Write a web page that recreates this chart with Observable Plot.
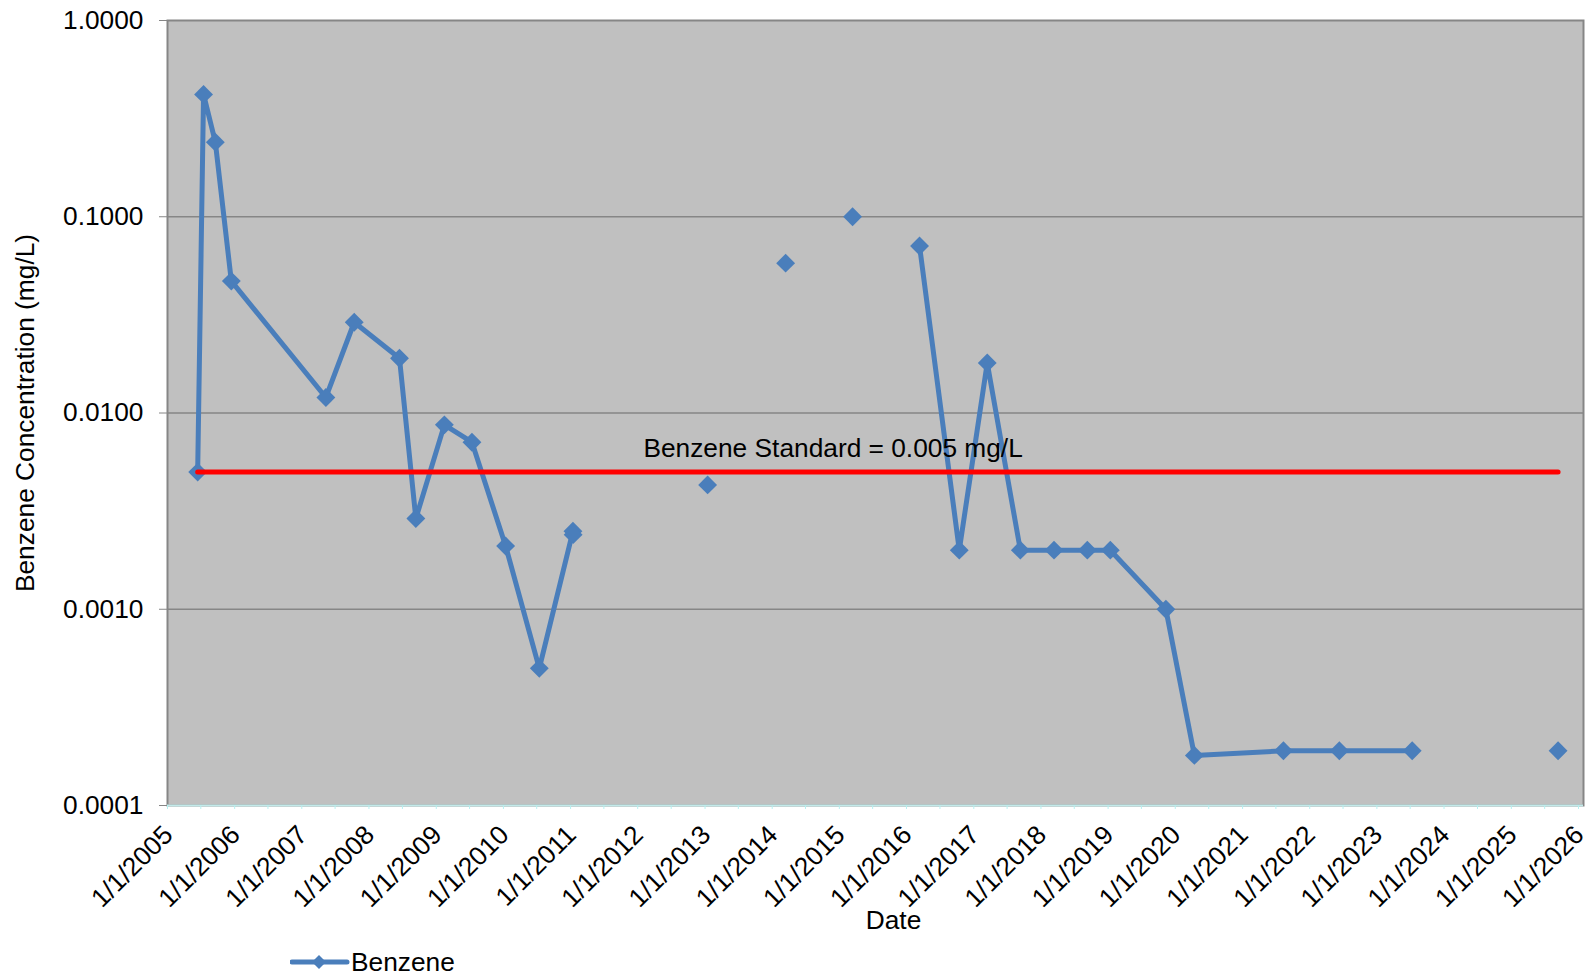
<!DOCTYPE html>
<html><head><meta charset="utf-8">
<script src="https://cdn.jsdelivr.net/npm/d3@7"></script>
<script src="https://cdn.jsdelivr.net/npm/@observablehq/plot@0.6"></script>
<style>
body{margin:0;background:#fff;font-family:"Liberation Sans",Arial,sans-serif;}
#wrap{position:relative;width:1591px;height:976px;overflow:hidden;}
#legend{position:absolute;left:290px;top:944px;height:36px;display:flex;align-items:center;font-size:26.3px;color:#000;}
#legend svg{margin-right:1px;}
</style></head><body><div id="wrap"></div>
<script>
// Sampling dates (blank rows = no result, breaking the line as in the source)
const sampleDates = [
  "2005-06-14","2005-07-16","2005-09-18","2005-12-14","2007-05-12","2007-10-13",
  "2008-06-15","2008-09-12","2009-02-14","2009-07-14","2010-01-13","2010-07-15",
  "2011-01-14","2011-01-15","2012-01-01","2013-01-15","2013-08-01","2014-03-15",
  "2014-09-01","2015-03-14","2015-09-01","2016-03-12","2016-10-14","2017-03-15",
  "2017-09-11","2018-03-13","2018-09-10","2019-01-13","2019-11-11","2020-04-14",
  "2021-08-11","2022-06-11","2023-07-12","2024-06-01","2025-09-12"
];
// Benzene concentration (mg/L)
const benzene = [
  0.005, 0.42, 0.24, 0.047, 0.012, 0.029,
  0.019, 0.0029, 0.0087, 0.0071, 0.0021, 0.0005,
  0.0025, 0.0024, null, 0.0043, null, 0.058,
  null, 0.10, null, 0.071, 0.002, 0.018,
  0.002, 0.002, 0.002, 0.002, 0.001, 0.00018,
  0.00019, 0.00019, 0.00019, null, 0.00019
];
const standardValue = 0.005;
const standardLabel = "Benzene Standard = 0.005 mg/L";
const standardLabelDate = "2012-02-01";
const yTicks = [0.0001, 0.001, 0.01, 0.1, 1];
const xStart = "2005-01-01", xEnd = "2026-01-01";
const seriesName = "Benzene";
const xTitle = "Date";
const yTitle = "Benzene Concentration (mg/L)";

const data = sampleDates.map((d, i) => ({date: new Date(d), value: benzene[i]}));
const valid = data.filter(d => d.value != null);
const standard = [
  {date: valid[0].date, value: standardValue},
  {date: valid[valid.length - 1].date, value: standardValue}
];
const yearTicks = d3.utcYear.range(new Date(xStart), d3.utcDay.offset(new Date(xEnd), 1));
const halfTicks = d3.utcMonth.every(6).range(new Date(xStart), d3.utcDay.offset(new Date(xEnd), 1));
const fmt = d3.utcFormat("%-m/%-d/%Y");
const blue = "#4a7ebb";
const fs = 26.3;

const chart = Plot.plot({
  width: 1591, height: 940,
  marginTop: 20, marginLeft: 167, marginRight: 8, marginBottom: 135,
  x: {type: "utc", domain: [new Date(xStart), new Date(xEnd)], insetRight: 5},
  y: {type: "log", domain: [0.0001, 1]},
  style: {fontFamily: "'Liberation Sans', Arial, sans-serif", fontSize: fs + "px", color: "#000", background: "#fff", overflow: "visible"},
  marks: [
    Plot.frame({fill: "#c0c0c0"}),
    Plot.gridY([0.001, 0.01, 0.1], {stroke: "#868686", strokeOpacity: 1, strokeWidth: 1.5}),
    Plot.frame({stroke: "#868686", strokeWidth: 2}),
    Plot.ruleY([0.0001], {stroke: "#c4eaea", strokeWidth: 2}),
    Plot.axisY({ticks: yTicks, tickFormat: d3.format(".4f"), tickSize: 8, tickPadding: 16, stroke: "#868686", strokeOpacity: 1, label: null, fontSize: fs}),
    Plot.axisX({ticks: halfTicks, tickSize: 4, stroke: "#b8f0f0", strokeOpacity: 1, tickFormat: () => "", label: null}),
    Plot.axisX({ticks: yearTicks, tickSize: 0, tickPadding: 25, tickRotate: -45, dx: 1, tickFormat: fmt, label: null, fontSize: fs}),
    Plot.line(data, {x: "date", y: "value", stroke: blue, strokeWidth: 5, strokeLinejoin: "round"}),
    Plot.dot(valid, {x: "date", y: "value", symbol: "diamond2", r: 8.5, fill: blue, stroke: null}),
    Plot.line(standard, {x: "date", y: "value", stroke: "#ff0000", strokeWidth: 5}),
    Plot.text([standardLabel], {x: new Date(standardLabelDate), y: standardValue, textAnchor: "start", dy: -23, fontSize: fs, fill: "#000"}),
    Plot.text([xTitle], {frameAnchor: "bottom", textAnchor: "middle", lineAnchor: "middle", dx: 18, dy: 115, fontSize: fs, fill: "#000"}),
    Plot.text([yTitle], {frameAnchor: "left", textAnchor: "middle", lineAnchor: "middle", rotate: -90, dx: -142, fontSize: fs, fill: "#000"})
  ]
});
const wrap = document.getElementById("wrap");
wrap.appendChild(chart);
const legend = document.createElement("div");
legend.id = "legend";
legend.innerHTML = `<svg width="60" height="20"><line x1="2" y1="10" x2="57" y2="10" stroke="${blue}" stroke-width="5" stroke-linecap="round"/><path d="M29,3 L36,10 L29,17 L22,10 Z" fill="${blue}"/></svg><span>${seriesName}</span>`;
wrap.appendChild(legend);
</script>
</body></html>
